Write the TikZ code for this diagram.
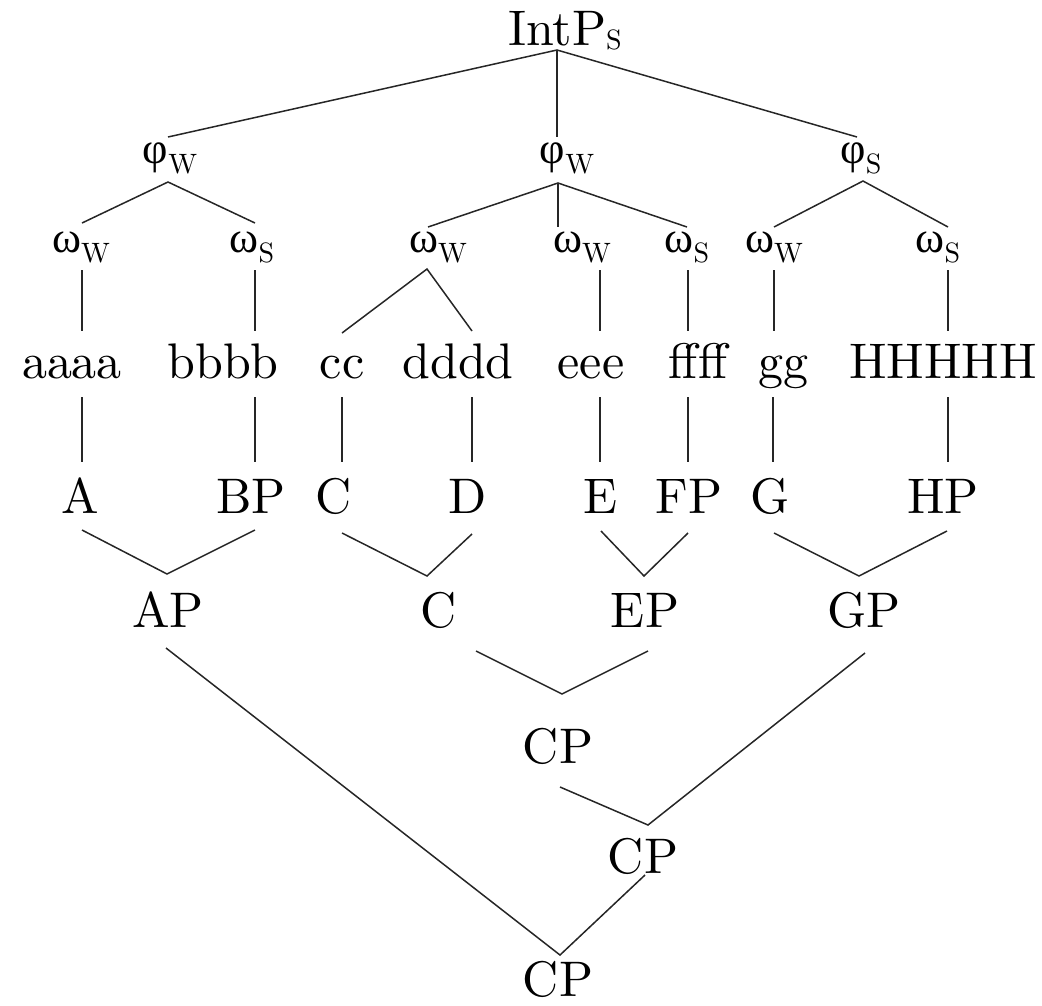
\documentclass[tikz,border=0pt]{standalone}
\usepackage{fontspec}
\newfontfamily\labelfont{lmroman10-regular.otf}
\newfontfamily\greekfont{Liberation Serif}
% Greek category symbols, set a little smaller than the Latin labels
\newcommand\gk[1]{{\fontsize{44}{50}\greekfont #1}}
% lowered capital subscript
\newcommand\lowsub[2][-0.2em]{\raisebox{#1}{\fontsize{28}{28}\selectfont #2}}
\begin{document}
\begin{tikzpicture}[x=1pt,y=-1pt,
  lbl/.style={anchor=base,inner sep=0pt,font=\labelfont\fontsize{50}{60}\selectfont},
  edge/.style={draw=black!85,line width=1.5pt}]
\useasboundingbox (0,0) rectangle (1042,1005);

% ---- labels ----
\node[lbl] (intp) at (565,45) {IntP\lowsub[-0.08em]{S}};

\node[lbl] (phiL) at (170,163) {\gk{φ}\lowsub{W}};
\node[lbl] (phiM) at (567,163) {\gk{φ}\lowsub{W}};
\node[lbl] (phiR) at (861,163) {\gk{φ}\lowsub{S}};

\node[lbl] (omL1) at (81,252)  {\gk{ω}\lowsub{W}};
\node[lbl] (omL2) at (252,252) {\gk{ω}\lowsub{S}};
\node[lbl] (omM1) at (438,252) {\gk{ω}\lowsub{W}};
\node[lbl] (omM2) at (582,252) {\gk{ω}\lowsub{W}};
\node[lbl] (omM3) at (687,252) {\gk{ω}\lowsub{S}};
\node[lbl] (omR1) at (774,252) {\gk{ω}\lowsub{W}};
\node[lbl] (omR2) at (938,252) {\gk{ω}\lowsub{S}};

\node[lbl] (wa) at (72,378)  {aaaa};
\node[lbl] (wb) at (223,378) {bbbb};
\node[lbl] (wc) at (342,378) {cc};
\node[lbl] (wd) at (458,378) {dddd};
\node[lbl] (we) at (591,378) {eee};
\node[lbl] (wf) at (698,378) {ffff};
\node[lbl] (wg) at (783,378) {gg};
\node[lbl] (wh) at (943,378) {HHHHH};

\node[lbl] (cA)  at (80,513)  {A};
\node[lbl] (cBP) at (251,513) {BP};
\node[lbl] (cC)  at (334,513) {C};
\node[lbl] (cD)  at (468,513) {D};
\node[lbl] (cE)  at (601,513) {E};
\node[lbl] (cFP) at (689,513) {FP};
\node[lbl] (cG)  at (770,513) {G};
\node[lbl] (cHP) at (943,513) {HP};

\node[lbl] (pAP) at (168,627) {AP};
\node[lbl] (pC)  at (439,627) {C};
\node[lbl] (pEP) at (645,627) {EP};
\node[lbl] (pGP) at (864,627) {GP};

\node[lbl] (cp1) at (558,763) {CP};
\node[lbl] (cp2) at (643,873) {CP};
\node[lbl] (cp3) at (558,996) {CP};

% ---- attachment points ----
\coordinate (intp-foot) at (557,50);
\coordinate (phiL-head) at (168,137);
\coordinate (phiM-head) at (557,137);
\coordinate (phiR-head) at (857,137);

\coordinate (phiL-foot) at (168,182);
\coordinate (phiM-foot) at (558,183);
\coordinate (phiR-foot) at (863,181);

\coordinate (omL1-head) at (82,223);
\coordinate (omL2-head) at (255,223);
\coordinate (omM1-head) at (428,227);
\coordinate (omM2-head) at (558,227);
\coordinate (omM3-head) at (687,227);
\coordinate (omR1-head) at (774,227);
\coordinate (omR2-head) at (948,227);

\coordinate (omL1-foot) at (82,270);
\coordinate (omL2-foot) at (255,270);
\coordinate (omM1-foot) at (427,269);
\coordinate (omM2-foot) at (600,270);
\coordinate (omM3-foot) at (688,270);
\coordinate (omR1-foot) at (774,270);
\coordinate (omR2-foot) at (948,270);

\coordinate (wa-head) at (82,331);
\coordinate (wb-head) at (255,331);
\coordinate (wc-head) at (342,333);
\coordinate (wd-head) at (472,331);
\coordinate (we-head) at (600,331);
\coordinate (wf-head) at (688,331);
\coordinate (wg-head) at (774,331);
\coordinate (wh-head) at (948,331);

\coordinate (wa-foot) at (82,397);
\coordinate (wb-foot) at (255,397);
\coordinate (wc-foot) at (342,397);
\coordinate (wd-foot) at (472,397);
\coordinate (we-foot) at (600,397);
\coordinate (wf-foot) at (688,397);
\coordinate (wg-foot) at (773,397);
\coordinate (wh-foot) at (948,397);

\coordinate (cA-head)  at (82,462);
\coordinate (cBP-head) at (255,462);
\coordinate (cC-head)  at (342,462);
\coordinate (cD-head)  at (472,462);
\coordinate (cE-head)  at (600,462);
\coordinate (cFP-head) at (688,462);
\coordinate (cG-head)  at (773,462);
\coordinate (cHP-head) at (948,462);

\coordinate (cA-foot)  at (82,530);
\coordinate (cBP-foot) at (255,530);
\coordinate (cC-foot)  at (342,533);
\coordinate (cD-foot)  at (472,534);
\coordinate (cE-foot)  at (601,531);
\coordinate (cFP-foot) at (688,533);
\coordinate (cG-foot)  at (774,533);
\coordinate (cHP-foot) at (947,531);

\coordinate (pAP-head) at (167,574);
\coordinate (pC-head)  at (427,576);
\coordinate (pEP-head) at (644,576);
\coordinate (pGP-head) at (859,576);

\coordinate (pAP-foot) at (166,648);
\coordinate (pC-foot)  at (476,651);
\coordinate (pEP-foot) at (648,651);
\coordinate (pGP-foot) at (865,653);

\coordinate (cp1-head) at (562,694);
\coordinate (cp1-foot) at (560,787);
\coordinate (cp2-head) at (648,825);
\coordinate (cp2-foot) at (645,875);
\coordinate (cp3-head) at (560,955);

% ---- prosodic tree (top down) ----
\draw[edge] (phiL-head) -- (intp-foot) -- (phiR-head);
\draw[edge] (intp-foot) -- (phiM-head);

\draw[edge] (omL1-head) -- (phiL-foot) -- (omL2-head);
\draw[edge] (omM1-head) -- (phiM-foot) -- (omM3-head);
\draw[edge] (phiM-foot) -- (omM2-head);
\draw[edge] (omR1-head) -- (phiR-foot) -- (omR2-head);

\draw[edge] (omL1-foot) -- (wa-head);
\draw[edge] (omL2-foot) -- (wb-head);
\draw[edge] (wc-head) -- (omM1-foot) -- (wd-head);
\draw[edge] (omM2-foot) -- (we-head);
\draw[edge] (omM3-foot) -- (wf-head);
\draw[edge] (omR1-foot) -- (wg-head);
\draw[edge] (omR2-foot) -- (wh-head);

% ---- words to syntactic terminals ----
\draw[edge] (wa-foot) -- (cA-head);
\draw[edge] (wb-foot) -- (cBP-head);
\draw[edge] (wc-foot) -- (cC-head);
\draw[edge] (wd-foot) -- (cD-head);
\draw[edge] (we-foot) -- (cE-head);
\draw[edge] (wf-foot) -- (cFP-head);
\draw[edge] (wg-foot) -- (cG-head);
\draw[edge] (wh-foot) -- (cHP-head);

% ---- syntactic tree (bottom up) ----
\draw[edge] (cA-foot) -- (pAP-head) -- (cBP-foot);
\draw[edge] (cC-foot) -- (pC-head) -- (cD-foot);
\draw[edge] (cE-foot) -- (pEP-head) -- (cFP-foot);
\draw[edge] (cG-foot) -- (pGP-head) -- (cHP-foot);

\draw[edge] (pC-foot) -- (cp1-head) -- (pEP-foot);
\draw[edge] (cp1-foot) -- (cp2-head) -- (pGP-foot);
\draw[edge] (pAP-foot) -- (cp3-head) -- (cp2-foot);
\end{tikzpicture}
\end{document}
